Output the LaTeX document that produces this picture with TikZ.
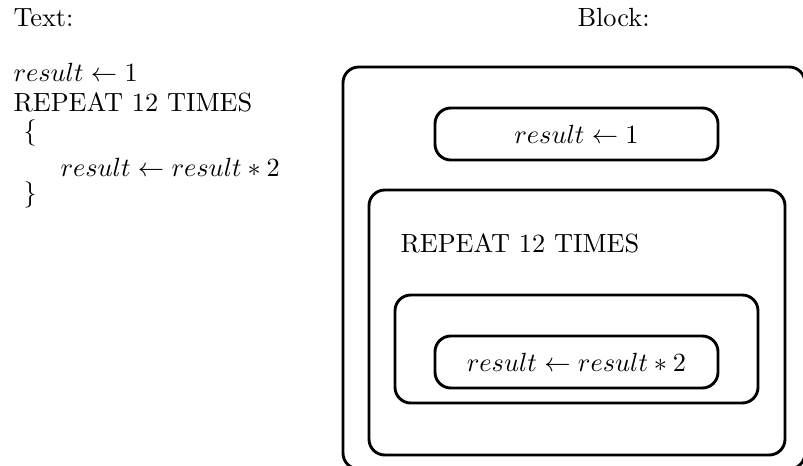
\documentclass[tikz,border=0pt]{standalone}
\begin{document}
\begin{tikzpicture}[x=0.38pt,y=-0.38pt,
  blk/.style={draw,line width=1.1pt,rounded corners=6pt},
  txt/.style={inner sep=0pt,anchor=base west}]
\useasboundingbox (0,0) rectangle (803,465);
\clip (0,0) rectangle (803,465);
% headings
\node[txt] (htext) at (13,27) {Text:};
\node[txt] (hblock) at (577,27) {Block:};
% text listing
\node[txt] (t1) at (13,82) {$result \leftarrow 1$};
\node[txt] (t2) at (13,112) {REPEAT 12 TIMES};
\node[txt] (t3) at (23,140) {$\{$};
\node[txt] (t4) at (60,177) {$result \leftarrow result * 2$};
\node[txt] (t5) at (23,201) {$\}$};
% blocks
\draw[blk] (343,67) rectangle (805,469);
\node[blk,minimum width=283*0.38pt,minimum height=52*0.38pt] (b1) at (576.5,134) {$result \leftarrow 1$};
\draw[blk] (369,190) rectangle (785,455);
\node[txt] (rep) at (400,252) {REPEAT 12 TIMES};
\draw[blk] (395,295) rectangle (758,403);
\node[blk,minimum width=283*0.38pt,minimum height=52*0.38pt] (b4) at (576.5,362) {$result \leftarrow result * 2$};
\end{tikzpicture}
\end{document}
